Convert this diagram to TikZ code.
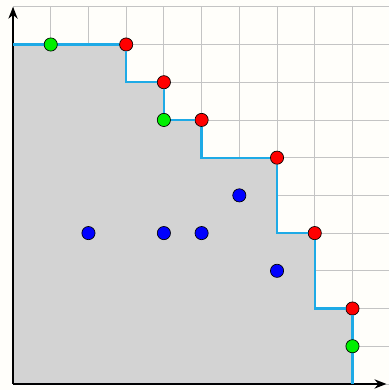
\documentclass[tikz,border=0pt]{standalone}
\usepackage{tikz}
\usetikzlibrary{arrows.meta}

\definecolor{paper}{RGB}{255,254,250}
\definecolor{gridgray}{RGB}{196,196,196}
\definecolor{regiongray}{RGB}{211,211,211}
\definecolor{stairline}{RGB}{30,170,230}
\definecolor{dotgreen}{RGB}{0,240,0}

\begin{document}
\begin{tikzpicture}[
    pt/.style={
        circle, draw=black, line width=0.5pt, inner sep=0pt,
        minimum size=0.35cm
    },
    redpt/.style={pt, fill=red},
    greenpt/.style={pt, fill=dotgreen},
    bluept/.style={pt, fill=blue},
    stair/.style={stairline, line width=1.7pt},
    axis/.style={-{Stealth[length=9pt,width=7pt]}, line width=1.3pt},
]

%% Canvas
\useasboundingbox[fill=paper] (-0.345,-0.16) rectangle (9.966,10.18);

%% Grid
\draw[gridgray, line width=0.6pt] (0,0) grid (9.966,10);

%% Corners of the staircase
\coordinate (o) at (0,0);
\coordinate (s0) at (0,9);
\coordinate (c1) at (3,8);
\coordinate (c2) at (4,7);
\coordinate (c3) at (5,6);
\coordinate (c4) at (7,4);
\coordinate (c5) at (8,2);
\coordinate (e) at (9,0);

%% Shaded region below the staircase
\fill[regiongray] (o) -- (s0) -- (3,9) -- (c1) -- (4,8) -- (c2) -- (5,7)
    -- (c3) -- (7,6) -- (c4) -- (8,4) -- (c5) -- (9,2) -- (e) -- cycle;

%% Axes
\draw[axis] (o) -- (9.9,0);
\draw[axis] (o) -- (0,10);

%% Maximal points (red)
\node[redpt] (r1) at (3,9) {};
\node[redpt] (r2) at (4,8) {};
\node[redpt] (r3) at (5,7) {};
\node[redpt] (r4) at (7,6) {};
\node[redpt] (r5) at (8,4) {};
\node[redpt] (r6) at (9,2) {};

%% Staircase
\draw[stair] (s0) -- (r1) -- (c1) -- (r2) -- (c2) -- (r3) -- (c3)
    -- (r4) -- (c4) -- (r5) -- (c5) -- (r6) -- (e);

%% Points on the boundary (green)
\node[greenpt] (g1) at (1,9) {};
\node[greenpt] (g2) at (4,7) {};
\node[greenpt] (g3) at (9,1) {};

%% Dominated points (blue)
\node[bluept] (b1) at (2,4) {};
\node[bluept] (b2) at (4,4) {};
\node[bluept] (b3) at (5,4) {};
\node[bluept] (b4) at (6,5) {};
\node[bluept] (b5) at (7,3) {};

\end{tikzpicture}
\end{document}
